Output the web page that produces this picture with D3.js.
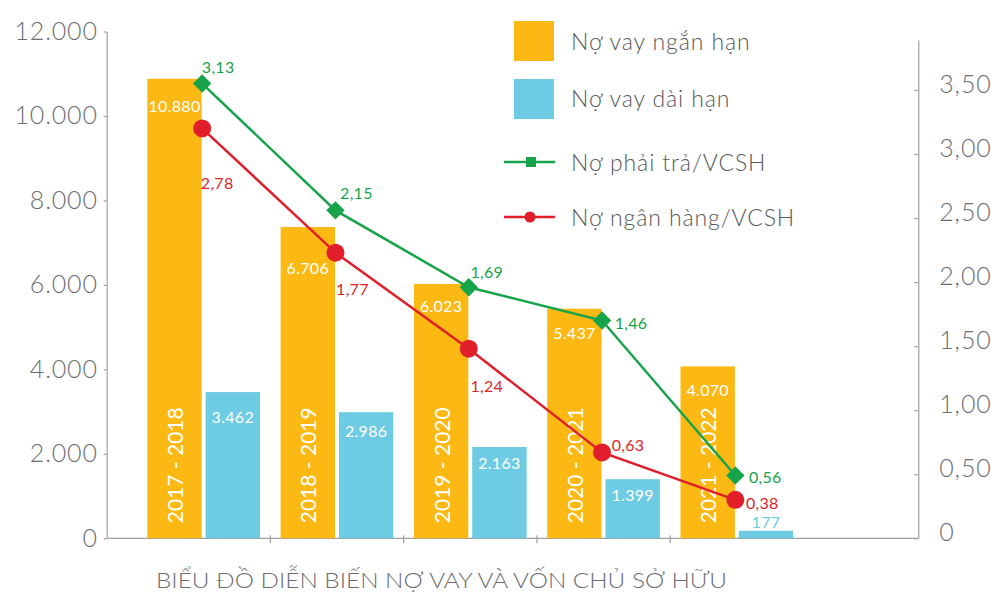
<!DOCTYPE html>
<html>
<head>
<meta charset="utf-8">
<script src="https://cdnjs.cloudflare.com/ajax/libs/d3/7.8.5/d3.min.js"></script>
<style>
    body { margin: 0; background: #fff; }
    svg { display: block; font-family: Lato, "Open Sans", sans-serif; }
</style>
</head>
<body>
<div id="chart"></div>
<script>
// Data
var years = ["2017 - 2018", "2018 - 2019", "2019 - 2020", "2020 - 2021", "2021 - 2022"];
var shortTermDebt = [10880, 7370, 6023, 5437, 4070];           // bar heights as drawn
var shortTermLabels = ["10.880", "6.706", "6.023", "5.437", "4.070"];
var longTermDebt = [3462, 2986, 2163, 1399, 177];
var longTermLabels = ["3.462", "2.986", "2.163", "1.399", "177"];
var liabEquity = [3.55, 2.56, 1.96, 1.70, 0.49];               // points as drawn (right axis)
var liabEquityLabels = ["3,13", "2,15", "1,69", "1,46", "0,56"];
var bankEquity = [3.20, 2.23, 1.48, 0.67, 0.30];
var bankEquityLabels = ["2,78", "1,77", "1,24", "0,63", "0,38"];
var leftTicks = [0, 2000, 4000, 6000, 8000, 10000, 12000];
var rightTicks = [0, 0.5, 1, 1.5, 2, 2.5, 3, 3.5];
var legendItems = ["Nợ vay ngắn hạn", "Nợ vay dài hạn", "Nợ phải trả/VCSH", "Nợ ngân hàng/VCSH"];
var chartTitle = "BIỂU ĐỒ DIỄN BIẾN NỢ VAY VÀ VỐN CHỦ SỞ HỮU";

var vWidth = 1001;
var vHeight = 594;
var yellow = "#fdb913", blue = "#6dcbe3", green = "#16a34a", red = "#e01f2b";
var axisGray = "#a0a0a0", textGray = "#6d6e71";

var svg = d3.select("#chart")
    .append("svg")
    .attr("width", vWidth)
    .attr("height", vHeight);

// Scales
var x0 = d3.scaleBand().domain(years).range([137, 803.5]);
var x1 = d3.scaleBand().domain(["short", "long"]).range([10.3, 123]).paddingInner(0.067);
var yL = d3.scaleLinear().domain([0, 12000]).range([538.3, 31.5]);
var yR = d3.scaleLinear().domain([0, 3.89]).range([538.3, 40]);

var leftFmt = function (d) { return d3.format(",")(d).replace(/,/g, "."); };
var rightFmt = function (d) { return d === 0 ? "0" : d3.format(".2f")(d).replace(".", ","); };

// Axes
var gL = svg.append("g")
    .attr("transform", "translate(106.7,0)")
    .call(d3.axisLeft(yL).tickValues(leftTicks).tickFormat(leftFmt).tickSizeInner(3).tickSizeOuter(0).tickPadding(6));
var gR = svg.append("g")
    .attr("transform", "translate(918.3,0)")
    .call(d3.axisRight(yR).tickValues(rightTicks).tickFormat(rightFmt).tickSizeInner(-4).tickSizeOuter(0).tickPadding(21));
[gL, gR].forEach(function (g) {
    g.selectAll("path, line").attr("stroke", axisGray).attr("stroke-width", 1.2);
    g.selectAll("text").attr("fill", textGray).attr("font-size", 25).attr("font-weight", 300)
        .attr("letter-spacing", 0.8).attr("font-family", "Lato, sans-serif");
});
gR.selectAll("text").attr("dy", "0.1em");

// x baseline and ticks between the groups
svg.append("line")
    .attr("x1", 106.7).attr("x2", 918.3)
    .attr("y1", yL(0)).attr("y2", yL(0))
    .attr("stroke", axisGray).attr("stroke-width", 1.2);
svg.selectAll(".xtick").data(years.slice(1)).enter().append("line")
    .attr("class", "xtick")
    .attr("x1", d => x0(d)).attr("x2", d => x0(d))
    .attr("y1", yL(0) - 3).attr("y2", yL(0) + 5)
    .attr("stroke", axisGray).attr("stroke-width", 1.2);

// Bars
var groups = svg.selectAll(".grp").data(years).enter().append("g")
    .attr("class", "grp")
    .attr("transform", d => "translate(" + x0(d) + ",0)");

groups.append("rect")
    .attr("x", x1("short"))
    .attr("width", x1.bandwidth())
    .attr("y", (d, i) => yL(shortTermDebt[i]))
    .attr("height", (d, i) => yL(0) - yL(shortTermDebt[i]))
    .attr("fill", yellow);

groups.append("rect")
    .attr("x", x1("long"))
    .attr("width", x1.bandwidth())
    .attr("y", (d, i) => yL(longTermDebt[i]))
    .attr("height", (d, i) => yL(0) - yL(longTermDebt[i]))
    .attr("fill", blue);

// Bar value labels (distance below the bar top, as placed in the original)
var shortLabelDrop = [27, 40, 22, 24, 23];
var longLabelDrop = [24, 18, 16, 15, -9];

groups.append("text")
    .text((d, i) => shortTermLabels[i])
    .attr("x", x1("short") + x1.bandwidth() / 2)
    .attr("y", (d, i) => yL(shortTermDebt[i]) + shortLabelDrop[i])
    .attr("text-anchor", "middle").attr("dominant-baseline", "central")
    .attr("fill", "#fff").attr("font-size", 16).attr("letter-spacing", 0.3);

groups.append("text")
    .text((d, i) => longTermLabels[i])
    .attr("x", x1("long") + x1.bandwidth() / 2)
    .attr("y", (d, i) => yL(longTermDebt[i]) + longLabelDrop[i])
    .attr("text-anchor", "middle").attr("dominant-baseline", "central")
    .attr("fill", (d, i) => longLabelDrop[i] < 0 ? blue : "#fff")
    .attr("font-size", 16).attr("letter-spacing", 0.3);

// Category labels, rotated inside the yellow bars
groups.append("text")
    .text(d => d)
    .attr("transform", "translate(" + (x1("short") + x1.bandwidth() / 2) + "," + (yL(0) - 15) + ") rotate(-90)")
    .attr("dominant-baseline", "central")
    .attr("fill", "#fff").attr("font-size", 21);

// Ratio lines
var cx = d => x0(d) + x0.bandwidth() / 2 - 1.5;

var lineG = d3.line().x(d => cx(d)).y((d, i) => yR(liabEquity[i]));
var lineR = d3.line().x(d => cx(d)).y((d, i) => yR(bankEquity[i]));

svg.append("path").attr("d", lineR(years))
    .attr("fill", "none").attr("stroke", red).attr("stroke-width", 2.5);
svg.append("path").attr("d", lineG(years))
    .attr("fill", "none").attr("stroke", green).attr("stroke-width", 2.5);

svg.selectAll(".dia").data(years).enter().append("rect")
    .attr("class", "dia")
    .attr("x", -6.5).attr("y", -6.5).attr("width", 13).attr("height", 13)
    .attr("transform", (d, i) => "translate(" + cx(d) + "," + yR(liabEquity[i]) + ") rotate(45)")
    .attr("fill", green);

svg.selectAll(".dot").data(years).enter().append("circle")
    .attr("class", "dot")
    .attr("cx", d => cx(d))
    .attr("cy", (d, i) => yR(bankEquity[i]))
    .attr("r", 9)
    .attr("fill", red);

// label placement around each point
var greenOffsets = [[16, -17], [21, -18], [18, -16], [29, 2], [30, 1]];
var redOffsets = [[15, 54], [17, 36], [18, 37], [26, -8], [27, 3]];

svg.selectAll(".glab").data(years).enter().append("text")
    .attr("class", "glab")
    .text((d, i) => liabEquityLabels[i])
    .attr("x", (d, i) => cx(d) + greenOffsets[i][0])
    .attr("y", (d, i) => yR(liabEquity[i]) + greenOffsets[i][1])
    .attr("text-anchor", "middle").attr("dominant-baseline", "central")
    .attr("fill", green).attr("font-size", 16).attr("letter-spacing", 0.3);

svg.selectAll(".rlab").data(years).enter().append("text")
    .attr("class", "rlab")
    .text((d, i) => bankEquityLabels[i])
    .attr("x", (d, i) => cx(d) + redOffsets[i][0])
    .attr("y", (d, i) => yR(bankEquity[i]) + redOffsets[i][1])
    .attr("text-anchor", "middle").attr("dominant-baseline", "central")
    .attr("fill", red).attr("font-size", 16).attr("letter-spacing", 0.3);

// Legend
var legend = svg.append("g");
legend.append("rect").attr("x", 514).attr("y", 21).attr("width", 40).attr("height", 40).attr("fill", yellow);
legend.append("rect").attr("x", 514).attr("y", 79).attr("width", 40).attr("height", 40).attr("fill", blue);
legend.append("line").attr("x1", 504).attr("x2", 555).attr("y1", 162).attr("y2", 162)
    .attr("stroke", green).attr("stroke-width", 2.5);
legend.append("rect").attr("x", 526).attr("y", 157).attr("width", 10).attr("height", 10).attr("fill", green);
legend.append("line").attr("x1", 504).attr("x2", 555).attr("y1", 217).attr("y2", 217)
    .attr("stroke", red).attr("stroke-width", 2.5);
legend.append("circle").attr("cx", 530).attr("cy", 217).attr("r", 5.5).attr("fill", red);

var legendY = [41, 98, 162, 217];
legend.selectAll("text").data(legendItems).enter().append("text")
    .text(d => d)
    .attr("x", 571)
    .attr("y", (d, i) => legendY[i])
    .attr("dominant-baseline", "central")
    .attr("fill", "#58595b").attr("font-size", 23).attr("font-weight", 300).attr("letter-spacing", 0.9);

// Title
svg.append("text")
    .text(chartTitle)
    .attr("x", 156).attr("y", 579)
    .attr("dominant-baseline", "central")
    .attr("textLength", 571).attr("lengthAdjust", "spacingAndGlyphs")
    .attr("fill", textGray).attr("font-size", 22).attr("font-weight", 300);
</script>
</body>
</html>
